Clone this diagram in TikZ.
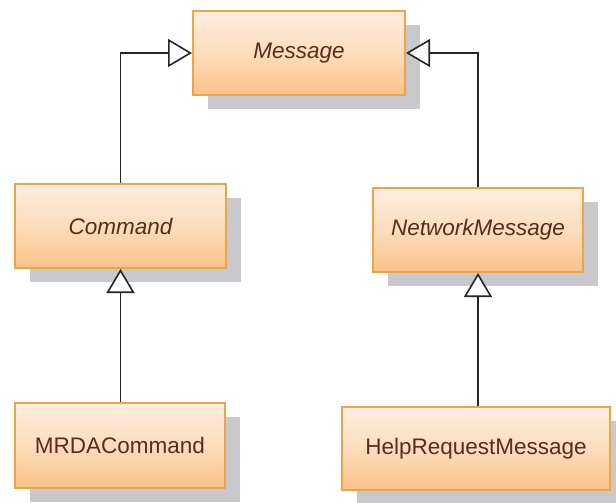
\documentclass[tikz,border=0pt]{standalone}
\usepackage{fontspec}
\setmainfont{Liberation Sans}
\usetikzlibrary{arrows.meta,shadows}
\definecolor{boxtop}{HTML}{FDEEE2}
\definecolor{boxmid}{HTML}{FCDDBC}
\definecolor{boxbot}{HTML}{FAC288}
\definecolor{boxline}{HTML}{EFA446}
\definecolor{shadowgray}{HTML}{C9C9CD}
\definecolor{txt}{HTML}{5A2C20}
\tikzset{
  cls/.style={rectangle, draw=boxline, line width=2pt,
    top color=boxtop, bottom color=boxbot, middle color=boxmid,
    general shadow={fill=shadowgray, shadow xshift=15pt, shadow yshift=-14pt},
    text=txt, font=\fontsize{22.5}{26}\selectfont, inner sep=0pt},
  inh/.style={draw=black!85, line width=1.6pt,
    -{Triangle[length=24pt,width=28pt,fill=white,line width=1.6pt]}}
}
\begin{document}
\begin{tikzpicture}[x=1pt,y=-1pt]
\useasboundingbox[fill=white] (0,0) rectangle (616,503);
\node[cls, minimum width=212pt, minimum height=84pt] (msg) at (299,53) {\itshape Message};
\node[cls, minimum width=211pt, minimum height=84pt] (cmd) at (120.5,226) {\itshape Command};
\node[cls, minimum width=210pt, minimum height=84pt] (nm) at (478,230) {\itshape NetworkMessage};
\node[cls, minimum width=210pt, minimum height=85pt] (mrda) at (120,445.5) {MRDACommand};
\node[cls, minimum width=268pt, minimum height=83pt] (help) at (476,448.5) {HelpRequestMessage};
\draw[inh] (cmd.north) |- (msg.west);
\draw[inh] (nm.north) |- (msg.east);
\draw[inh] (cmd.south |- mrda.north) -- (cmd.south);
\draw[inh] (nm.south |- help.north) -- (nm.south);
\end{tikzpicture}
\end{document}
